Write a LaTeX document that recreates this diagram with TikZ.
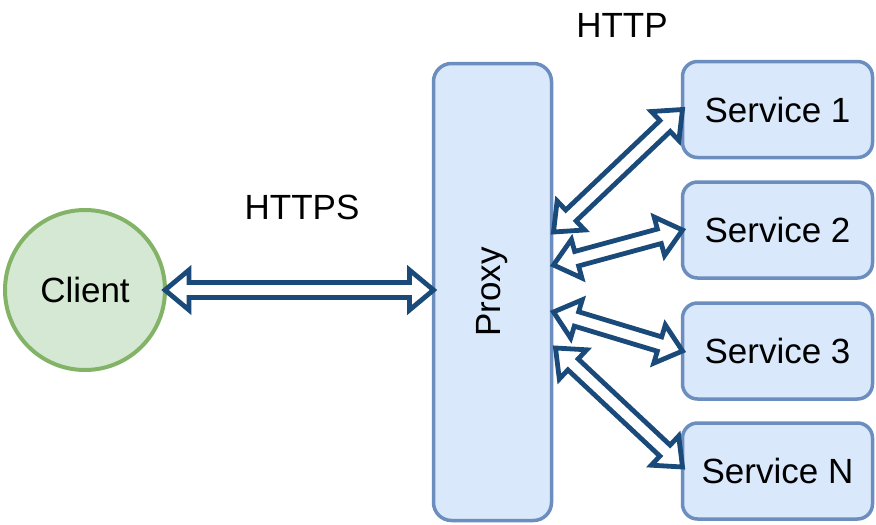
\documentclass[tikz,border=0pt]{standalone}
\usepackage{fontspec}
\setmainfont{Liberation Sans}
\usetikzlibrary{calc}
\definecolor{cfill}{HTML}{D5E8D4}
\definecolor{cline}{HTML}{82B366}
\definecolor{sfill}{HTML}{DAE8FC}
\definecolor{sline}{HTML}{6C8EBF}
\definecolor{aline}{HTML}{1A4A7A}
\tikzset{
  lbl/.style={font=\fontsize{35}{42}\selectfont, inner sep=0pt},
  svc/.style={draw=sline, fill=sfill, line width=3.5pt, rounded corners=15pt,
    minimum width=190pt, minimum height=96pt, inner sep=0pt, outer sep=0pt,
    font=\fontsize{35}{42}\selectfont},
  flexarrow/.style={draw=aline, line width=4.8pt, fill=white, line join=miter},
}
\newcommand\dblarrow[2]{%
  \coordinate (da) at ($(#1)!24pt!(#2)$);
  \coordinate (db) at ($(#2)!24pt!(#1)$);
  \draw[flexarrow] (#1) -- ($(da)!20pt!90:(#2)$) -- ($(da)!7.5pt!90:(#2)$)
    -- ($(db)!7.5pt!-90:(#1)$) -- ($(db)!20pt!-90:(#1)$) -- (#2)
    -- ($(db)!20pt!90:(#1)$) -- ($(db)!7.5pt!90:(#1)$)
    -- ($(da)!7.5pt!-90:(#2)$) -- ($(da)!20pt!-90:(#2)$) -- cycle;
}
\begin{document}
\begin{tikzpicture}[x=1pt,y=-1pt]
\useasboundingbox (0,0) rectangle (876,525);
\node[circle, draw=cline, fill=cfill, line width=4pt, minimum size=160pt,
  inner sep=0pt, outer sep=0pt, font=\fontsize{35}{42}\selectfont] (client) at (85,290) {Client};
\node[draw=sline, fill=sfill, line width=3.5pt, rounded corners=18pt,
  minimum width=118pt, minimum height=457pt, inner sep=0pt, outer sep=0pt] (proxy) at (492.5,292) {};
\node[lbl, rotate=90] (proxylbl) at (proxy.center) {Proxy};
\node[svc] (s1) at (777.5,109.5) {Service 1};
\node[svc] (s2) at (777.5,230) {Service 2};
\node[svc] (s3) at (777.5,351) {Service 3};
\node[svc] (s4) at (777.5,471) {Service N};
\node[lbl] (https) at (302,207) {HTTPS};
\node[lbl] (http) at (622,25) {HTTP};
\coordinate (pc) at (proxy.west |- client.east);
\coordinate (p1) at ([xshift=2pt,yshift=60pt]proxy.east);
\coordinate (p2) at ([xshift=2pt,yshift=27pt]proxy.east);
\coordinate (p3) at ([xshift=2pt,yshift=-20pt]proxy.east);
\coordinate (p4) at ([xshift=4pt,yshift=-56pt]proxy.east);
\coordinate (q4) at ([yshift=4pt]s4.west);
\dblarrow{client.east}{pc}
\dblarrow{p1}{s1.west}
\dblarrow{p2}{s2.west}
\dblarrow{p3}{s3.west}
\dblarrow{p4}{q4}
\end{tikzpicture}
\end{document}
